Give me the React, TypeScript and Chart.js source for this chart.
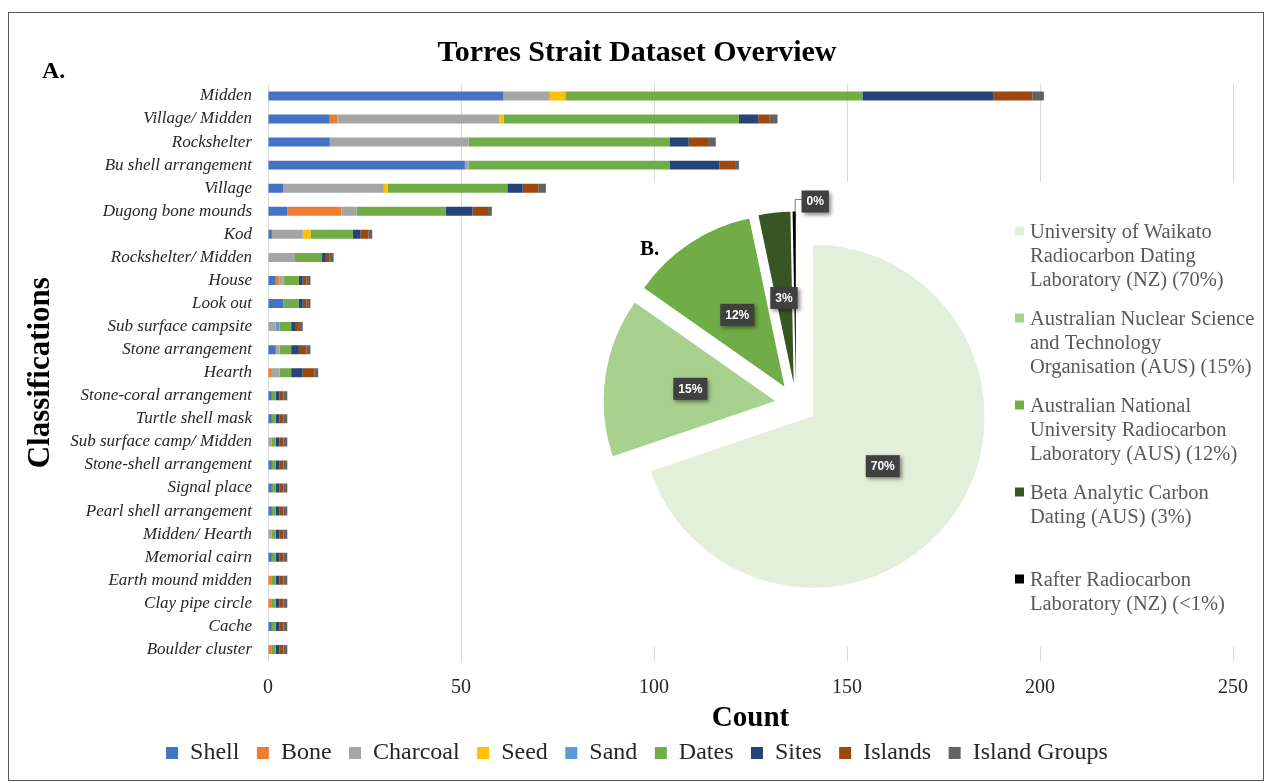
import React, { useEffect, useRef } from 'react';
import { Chart, registerables } from 'chart.js';

Chart.register(...registerables);

// ---------- Data ----------
const CATEGORIES = [
  'Midden', 'Village/ Midden', 'Rockshelter', 'Bu shell arrangement', 'Village',
  'Dugong bone mounds', 'Kod', 'Rockshelter/ Midden', 'House', 'Look out',
  'Sub surface campsite', 'Stone arrangement', 'Hearth', 'Stone-coral arrangement',
  'Turtle shell mask', 'Sub surface camp/ Midden', 'Stone-shell arrangement',
  'Signal place', 'Pearl shell arrangement', 'Midden/ Hearth', 'Memorial cairn',
  'Earth mound midden', 'Clay pipe circle', 'Cache', 'Boulder cluster',
];

const SERIES_NAMES = ['Shell', 'Bone', 'Charcoal', 'Seed', 'Sand', 'Dates', 'Sites', 'Islands', 'Island Groups'];

const SHELL = [61, 16, 16, 51, 4, 5, 1, 0, 2, 4, 0, 2, 0, 1, 1, 0, 1, 1, 1, 0, 1, 0, 0, 1, 0];
const BONE = [0, 2, 0, 0, 0, 14, 0, 0, 1, 0, 0, 0, 1, 0, 0, 0, 0, 0, 0, 0, 0, 1, 1, 0, 1];
const CHARCOAL = [12, 42, 36, 1, 26, 4, 8, 7, 1, 0, 2, 1, 2, 0, 0, 1, 0, 0, 0, 1, 0, 0, 0, 0, 0];
const SEED = [4, 1, 0, 0, 1, 0, 2, 0, 0, 0, 0, 0, 0, 0, 0, 0, 0, 0, 0, 0, 0, 0, 0, 0, 0];
const SAND = [0, 0, 0, 0, 0, 0, 0, 0, 0, 0, 1, 0, 0, 0, 0, 0, 0, 0, 0, 0, 0, 0, 0, 0, 0];
const DATES = [77, 61, 52, 52, 31, 23, 11, 7, 4, 4, 3, 3, 3, 1, 1, 1, 1, 1, 1, 1, 1, 1, 1, 1, 1];
const SITES = [34, 5, 5, 13, 4, 7, 2, 1, 1, 1, 1, 2, 3, 1, 1, 1, 1, 1, 1, 1, 1, 1, 1, 1, 1];
const ISLANDS = [10, 3, 5, 4, 4, 4, 2, 1, 1, 1, 1, 2, 3, 1, 1, 1, 1, 1, 1, 1, 1, 1, 1, 1, 1];
const ISLAND_GROUPS = [3, 2, 2, 1, 2, 1, 1, 1, 1, 1, 1, 1, 1, 1, 1, 1, 1, 1, 1, 1, 1, 1, 1, 1, 1];

const SERIES_VALUES = [SHELL, BONE, CHARCOAL, SEED, SAND, DATES, SITES, ISLANDS, ISLAND_GROUPS];

const X_TICKS = [0, 50, 100, 150, 200, 250];

const PIE_LABELS = [
  'University of Waikato Radiocarbon Dating Laboratory (NZ)',
  'Australian Nuclear Science and Technology Organisation (AUS)',
  'Australian National University Radiocarbon Laboratory (AUS)',
  'Beta Analytic Carbon Dating (AUS)',
  'Rafter Radiocarbon Laboratory (NZ)',
];
const PIE_VALUES = [70, 15, 12, 3, 0.3];
const PIE_LEGEND_LINES = [
  ['University of Waikato', 'Radiocarbon Dating', 'Laboratory (NZ) (70%)'],
  ['Australian Nuclear Science', 'and Technology', 'Organisation (AUS) (15%)'],
  ['Australian National', 'University Radiocarbon', 'Laboratory (AUS) (12%)'],
  ['Beta Analytic Carbon', 'Dating (AUS) (3%)'],
  ['Rafter Radiocarbon', 'Laboratory (NZ) (<1%)'],
];

// ---------- Styles ----------
const SERIES_COLORS = ['#4472C4', '#ED7D31', '#A5A5A5', '#FFC000', '#5B9BD5', '#70AD47', '#264478', '#9E480E', '#636363'];
const PIE_COLORS = ['#E2EFDA', '#A9D18E', '#70AD47', '#375623', '#000000'];
const SERIF = '"Liberation Serif", "Times New Roman", serif';
const SANS = '"Liberation Sans", Arial, sans-serif';
const EXPLODE = 21;

const barDecor = {
  id: 'barDecor',
  afterDraw(chart: any) {
    const ctx = chart.ctx;
    ctx.save();
    ctx.strokeStyle = '#595959';
    ctx.lineWidth = 1;
    ctx.strokeRect(8.5, 12.5, 1255, 768);
    ctx.fillStyle = '#000';
    ctx.font = `bold 24px ${SERIF}`;
    ctx.textBaseline = 'alphabetic';
    ctx.textAlign = 'left';
    ctx.fillText('A.', 42, 78);
    ctx.restore();
  },
};

const explodePlugin = {
  id: 'explode',
  beforeDatasetsDraw(chart: any) {
    const ctx = chart.ctx;
    const meta = chart.getDatasetMeta(0);
    meta.data.forEach((arc: any) => {
      const mid = (arc.startAngle + arc.endAngle) / 2;
      ctx.save();
      ctx.translate(Math.cos(mid) * EXPLODE, Math.sin(mid) * EXPLODE);
      arc.draw(ctx);
      ctx.restore();
    });
    return false;
  },
};

function drawTag(ctx: CanvasRenderingContext2D, text: string, cx: number, cy: number) {
  ctx.save();
  ctx.font = `bold 12px ${SANS}`;
  const w = ctx.measureText(text).width + 10;
  const h = 22;
  ctx.shadowColor = 'rgba(0,0,0,0.45)';
  ctx.shadowBlur = 4;
  ctx.shadowOffsetX = 2;
  ctx.shadowOffsetY = 2;
  ctx.fillStyle = '#404040';
  ctx.fillRect(cx - w / 2, cy - h / 2, w, h);
  ctx.shadowColor = 'transparent';
  ctx.fillStyle = '#fff';
  ctx.textAlign = 'center';
  ctx.textBaseline = 'middle';
  ctx.fillText(text, cx, cy + 0.5);
  ctx.restore();
  return w;
}

const pieDecor = {
  id: 'pieDecor',
  afterDraw(chart: any) {
    const ctx = chart.ctx;
    const meta = chart.getDatasetMeta(0);
    const total = PIE_VALUES.reduce((a, b) => a + b, 0);
    meta.data.forEach((arc: any, i: number) => {
      const share = PIE_VALUES[i] / total;
      const text = Math.round(share * 100) + '%';
      const mid = (arc.startAngle + arc.endAngle) / 2;
      const R = arc.outerRadius;
      if (share < 0.01) {
        const ox = arc.x + Math.cos(mid) * (EXPLODE + R);
        const oy = arc.y + Math.sin(mid) * (EXPLODE + R);
        const bx = ox + 21;
        const by = oy - 10;
        ctx.save();
        ctx.strokeStyle = '#7f7f7f';
        ctx.lineWidth = 1;
        ctx.beginPath();
        ctx.moveTo(ox + 1, oy);
        ctx.lineTo(ox + 1, by - 2);
        ctx.lineTo(bx - 13, by - 2);
        ctx.stroke();
        ctx.restore();
        drawTag(ctx, text, bx, by);
      } else {
        const d = EXPLODE + R * 0.5;
        drawTag(ctx, text, arc.x + Math.cos(mid) * d, arc.y + Math.sin(mid) * d);
      }
    });

    ctx.save();
    ctx.fillStyle = '#000';
    ctx.font = `bold 21px ${SERIF}`;
    ctx.textBaseline = 'alphabetic';
    ctx.textAlign = 'left';
    ctx.fillText('B.', 50, 73);
    // legend
    const colors = chart.data.datasets[0].backgroundColor;
    ctx.font = `20.5px ${SERIF}`;
    ctx.textBaseline = 'middle';
    PIE_LEGEND_LINES.forEach((lines, i) => {
      const y0 = 51 + i * 87;
      ctx.fillStyle = colors[i];
      ctx.fillRect(425, y0 - 6.5, 9, 9);
      ctx.fillStyle = '#595959';
      lines.forEach((ln, j) => ctx.fillText(ln, 440, y0 + j * 23.8));
    });
    ctx.restore();
  },
};

export default function App() {
  const barRef = useRef<HTMLCanvasElement>(null);
  const pieRef = useRef<HTMLCanvasElement>(null);

  useEffect(() => {
    const bar = new Chart(barRef.current as HTMLCanvasElement, {
      type: 'bar',
      data: {
        labels: CATEGORIES,
        datasets: SERIES_VALUES.map((vals, i) => ({
          label: SERIES_NAMES[i],
          data: vals,
          backgroundColor: SERIES_COLORS[i],
          borderWidth: 0,
          barPercentage: 0.39,
          categoryPercentage: 1,
        })),
      },
      options: {
        indexAxis: 'y',
        responsive: false,
        animation: false,
        layout: { padding: { top: 12, left: 41, right: 35, bottom: 8 } },
        scales: {
          x: {
            stacked: true,
            min: X_TICKS[0],
            max: X_TICKS[X_TICKS.length - 1],
            afterBuildTicks: (scale: any) => {
              scale.ticks = X_TICKS.map((v) => ({ value: v }));
            },
            ticks: { padding: 14.5, font: { family: SERIF, size: 20 }, color: '#262626' },
            grid: { color: '#d9d9d9', lineWidth: 1, drawTicks: false },
            border: { display: false },
            title: {
              display: true,
              text: 'Count',
              color: '#000',
              font: { family: SERIF, size: 29, weight: 'bold' },
              padding: { top: -12.9, bottom: -12.4 },
            },
          },
          y: {
            stacked: true,
            grid: { display: false, drawTicks: false },
            border: { display: false },
            ticks: {
              autoSkip: false,
              padding: 16,
              color: '#262626',
              font: { family: SERIF, size: 17, style: 'italic' },
            },
            title: {
              display: true,
              text: 'Classifications',
              color: '#000',
              font: { family: SERIF, size: 31, weight: 'bold' },
              padding: { top: -19, bottom: 0 },
            },
            afterFit: (scale: any) => {
              scale.width = 227;
            },
          },
        },
        plugins: {
          title: {
            display: true,
            text: 'Torres Strait Dataset Overview',
            color: '#000',
            font: { family: SERIF, size: 30, weight: 'bold' },
            padding: { top: 23, bottom: 13.4 },
          },
          legend: {
            position: 'bottom',
            labels: {
              boxWidth: 12,
              boxHeight: 12,
              padding: 17.5,
              color: '#262626',
              font: { family: SERIF, size: 24 },
            },
          },
          tooltip: { enabled: false },
        },
      } as any,
      plugins: [barDecor],
    });

    const pie = new Chart(pieRef.current as HTMLCanvasElement, {
      type: 'pie',
      data: {
        labels: PIE_LABELS,
        datasets: [
          {
            data: PIE_VALUES,
            backgroundColor: PIE_COLORS,
            borderWidth: 0,
            radius: 171.5,
          } as any,
        ],
      },
      options: {
        responsive: false,
        animation: false,
        layout: { padding: { left: 0, right: 260, top: 0, bottom: 21 } },
        plugins: { legend: { display: false }, tooltip: { enabled: false } },
      } as any,
      plugins: [explodePlugin, pieDecor],
    });

    return () => {
      bar.destroy();
      pie.destroy();
    };
  }, []);

  return (
    <div style={{ position: 'absolute', left: 0, top: 0, width: 1268, height: 783, background: '#fff' }}>
      <canvas ref={barRef} width={1268} height={783} style={{ position: 'absolute', left: 0, top: 0 }} />
      <canvas
        ref={pieRef}
        width={672}
        height={465}
        style={{ position: 'absolute', left: 590, top: 182, background: '#fff' }}
      />
    </div>
  );
}
